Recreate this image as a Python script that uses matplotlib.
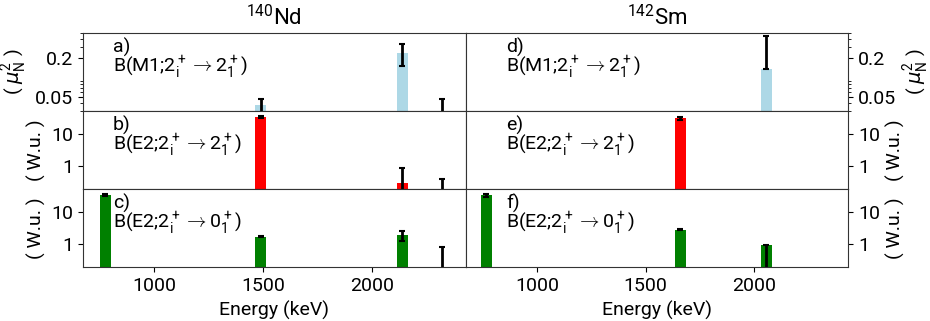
import matplotlib
matplotlib.use("Agg")
import matplotlib.pyplot as plt
from matplotlib.ticker import NullLocator, NullFormatter, FixedLocator, FixedFormatter

plt.rcParams['font.family'] = ['Roboto', 'DejaVu Sans']
plt.rcParams['font.size'] = 14
plt.rcParams['mathtext.fontset'] = 'custom'
plt.rcParams['mathtext.rm'] = 'Roboto'
plt.rcParams['mathtext.it'] = 'DejaVu Sans:italic'
plt.rcParams['mathtext.bf'] = 'Roboto:bold'
plt.rcParams['axes.edgecolor'] = '#333333'

# ---- 140Nd ----
nd_energy = [774, 1490, 2140, 2325]
nd_m1 = [None, 0.037, 0.245, 0.0]
nd_m1_err = [None, 0.009, 0.09, 0.046]
nd_e2_22 = [None, 33.0, 0.30, 0.0]
nd_e2_22_err = [None, 2.0, 0.60, 0.40]
nd_e2_20 = [33.0, 1.73, 1.88, 0.0]
nd_e2_20_err = [2.0, 0.10, 0.65, 0.80]

# ---- 142Sm ----
sm_energy = [768, 1660, 2055]
sm_m1 = [None, None, 0.136]
sm_m1_err_lo = [None, None, 0.0]
sm_m1_err_hi = [None, None, 0.31]
sm_e2_22 = [None, 30.0, None]
sm_e2_22_err = [None, 3.0, None]
sm_e2_20 = [32.0, 2.85, 0.98]
sm_e2_20_err_lo = [3.0, 0.15, 0.95]
sm_e2_20_err_hi = [3.0, 0.15, 0.0]

titles = [r'$^{140}$Nd', r'$^{142}$Sm']
row_labels = [r'B(M1;2$_{\rm i}^+$$\rightarrow$2$_1^+$)',
              r'B(E2;2$_{\rm i}^+$$\rightarrow$2$_1^+$)',
              r'B(E2;2$_{\rm i}^+$$\rightarrow$0$_1^+$)']
letters = [['a)', 'b)', 'c)'], ['d)', 'e)', 'f)']]
colors = ['lightblue', 'red', 'green']
ylabels = [r'( $\mu_{\rm N}^2$ )', '( W.u. )', '( W.u. )']

bar_width = 50
xlim = (672, 2432)

fig, axes = plt.subplots(3, 2, figsize=(9.3, 3.21), dpi=100, sharex=True)
fig.subplots_adjust(left=0.0892, right=0.912, top=0.897, bottom=0.168,
                    wspace=0, hspace=0)


def draw(ax, energy, vals, err_lo, err_hi, color):
    for e, v, lo, hi in zip(energy, vals, err_lo, err_hi):
        if v is None:
            continue
        if v > 0:
            ax.bar(e, v, width=bar_width, color=color, zorder=2)
        ax.errorbar(e, v if v > 0 else 1e-6, yerr=[[lo if v > 0 else 0], [hi if v > 0 else hi]],
                    fmt='none', ecolor='black', elinewidth=2, capsize=2.5,
                    capthick=1.5, zorder=3)


nd_sets = [
    (nd_m1, nd_m1_err, nd_m1_err),
    (nd_e2_22, nd_e2_22_err, nd_e2_22_err),
    (nd_e2_20, nd_e2_20_err, nd_e2_20_err),
]
sm_sets = [
    (sm_m1, sm_m1_err_lo, sm_m1_err_hi),
    (sm_e2_22, sm_e2_22_err, sm_e2_22_err),
    (sm_e2_20, sm_e2_20_err_lo, sm_e2_20_err_hi),
]

for col, (energy, sets) in enumerate([(nd_energy, nd_sets), (sm_energy, sm_sets)]):
    for row in range(3):
        ax = axes[row, col]
        ax.set_yscale('log')
        vals, lo, hi = sets[row]
        lo = [0 if l is None else l for l in lo]
        hi = [0 if h is None else h for h in hi]
        draw(ax, energy, vals, lo, hi, colors[row])
        ax.set_xlim(*xlim)
        if row == 0:
            ax.set_ylim(0.03, 0.5)
            ax.yaxis.set_major_locator(FixedLocator([0.05, 0.2]))
            ax.yaxis.set_major_formatter(FixedFormatter(['0.05', '0.2']))
            ax.yaxis.set_minor_formatter(NullFormatter())
        else:
            ax.set_ylim(0.2, 50)
            ax.yaxis.set_major_locator(FixedLocator([1, 10]))
            ax.yaxis.set_major_formatter(FixedFormatter(['1', '10']))
            ax.yaxis.set_minor_locator(NullLocator())
        ax.set_xticks([1000, 1500, 2000])
        ax.xaxis.set_minor_locator(NullLocator())
        if row < 2:
            ax.tick_params(axis='x', bottom=False, labelbottom=False)
        else:
            ax.set_xlabel('Energy (keV)')
        if col == 1:
            ax.yaxis.tick_right()
            ax.yaxis.set_label_position('right')
            ax.tick_params(axis='y', which='both', left=False, labelleft=False)
        ax.set_ylabel(ylabels[row])
        tx = 0.078 if col == 0 else 0.107
        ax.text(tx, 0.82, letters[col][row], transform=ax.transAxes,
                ha='left', va='center')
        ax.text(tx, 0.555, row_labels[row], transform=ax.transAxes,
                ha='left', va='center')
    axes[0, col].set_title(titles[col], fontsize=16)

fig.savefig('out.png', dpi=100)
